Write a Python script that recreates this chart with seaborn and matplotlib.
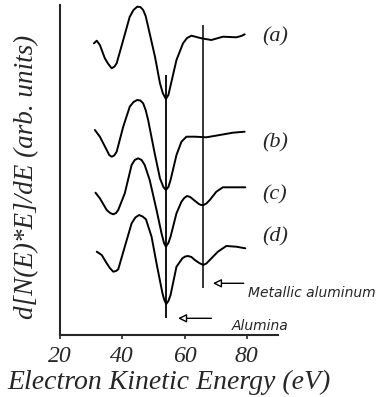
import matplotlib
matplotlib.use("Agg")
import matplotlib.pyplot as plt
import seaborn as sns
import pandas as pd

# ---- data (E in eV, signal in arb. units) ----
E_a = [30.9, 31.8, 32.8, 34.4, 35.5, 36.6, 37.5, 38.2, 40.3, 42.4, 43.6, 44.8, 45.8,
       46.7, 47.5, 48.3, 50.5, 52.1, 53.0, 54.0, 54.8, 55.3, 57.4, 59.5, 60.8, 62.2,
       65.4, 68.6, 72.3, 76.6, 78.2, 79.3]
y_a = [29.17, 29.43, 29.0, 27.67, 27.1, 26.67, 26.85, 27.17, 29.5, 31.83, 32.5, 32.83, 32.8,
       32.5, 31.9, 30.83, 27.83, 25.17, 24.2, 23.6, 24.0, 24.67, 27.5, 29.17, 29.7, 29.93,
       29.67, 29.5, 29.83, 29.77, 29.9, 30.07]

E_b = [31.2, 32.8, 35.0, 35.8, 36.6, 37.4, 38.2, 40.3, 42.4, 43.6, 44.8, 45.8, 46.7,
       47.5, 48.3, 50.4, 52.1, 53.2, 54.0, 54.8, 55.5, 57.4, 59.0, 60.6, 63.3, 67.0,
       71.3, 75.5, 79.3]
y_b = [20.5, 19.83, 18.5, 18.0, 17.83, 17.95, 18.33, 20.83, 22.83, 23.3, 23.5, 23.45, 23.17,
       22.5, 21.5, 18.17, 15.67, 14.8, 14.5, 14.8, 15.5, 18.0, 19.33, 19.83, 19.83, 19.77,
       20.0, 20.23, 20.33]

E_c = [31.4, 32.8, 35.0, 36.1, 37.1, 38.0, 38.7, 40.8, 43.0, 44.0, 45.1, 46.2, 47.2,
       48.8, 51.0, 52.6, 53.4, 54.0, 54.8, 55.5, 57.4, 59.0, 59.9, 60.8, 61.8, 62.7,
       64.6, 65.3, 66.1, 67.0, 68.1, 70.2, 72.3, 75.5, 79.5]
y_c = [14.23, 13.67, 12.5, 12.2, 12.07, 12.2, 12.5, 14.17, 17.0, 17.5, 17.67, 17.5, 17.0,
       15.5, 12.5, 10.17, 9.2, 8.83, 9.2, 9.83, 12.17, 13.33, 13.7, 13.9, 13.8, 13.57,
       13.1, 13.0, 13.0, 13.15, 13.5, 14.33, 14.77, 14.77, 14.77]

E_d = [31.8, 33.4, 35.0, 36.0, 37.1, 38.0, 38.7, 40.8, 43.0, 44.2, 45.4, 46.5, 47.6,
       49.4, 51.2, 52.9, 53.5, 54.1, 54.8, 55.5, 57.4, 59.3, 60.2, 61.1, 62.2, 63.3,
       64.7, 66.0, 67.0, 68.1, 70.7, 73.4, 76.6, 79.5]
y_d = [8.33, 8.0, 7.17, 6.7, 6.33, 6.4, 6.57, 8.83, 11.17, 11.75, 12.0, 11.85, 11.57,
       9.83, 6.83, 4.17, 3.5, 3.1, 3.4, 4.0, 6.83, 7.67, 7.85, 7.9, 7.8, 7.5,
       7.2, 7.0, 7.15, 7.5, 8.33, 8.9, 8.83, 8.67]

curve_labels = ["(a)", "(b)", "(c)", "(d)"]
label_y = [29.83, 19.17, 14.0, 9.8]

# reference energies
alumina_E = 54.0
metal_E = 66.0
alumina_span = [1.7, 26.0]
metal_span = [4.7, 31.0]

x_ticks = [20, 40, 60, 80]

frames = []
for lab, xs, ys in zip(curve_labels, [E_a, E_b, E_c, E_d], [y_a, y_b, y_c, y_d]):
    frames.append(pd.DataFrame({"E": xs, "S": ys, "curve": lab}))
df = pd.concat(frames, ignore_index=True)

sns.set_style("ticks")
plt.rcParams["font.family"] = ["Liberation Serif", "DejaVu Serif"]

fig = plt.figure(figsize=(3.84, 3.97), dpi=100)
ax = fig.add_axes([60 / 384, (397 - 335) / 397, 218 / 384, 330 / 397])

for lab in curve_labels:
    sub = df[df["curve"] == lab]
    sns.lineplot(data=sub, x="E", y="S", ax=ax, color="black", lw=1.4,
                 sort=False, estimator=None, legend=False,
                 solid_joinstyle="round", solid_capstyle="round")

ax.vlines([alumina_E], alumina_span[0], alumina_span[1], color="black", lw=1.3)
ax.vlines([metal_E], metal_span[0], metal_span[1], color="black", lw=1.1)

for lab, yy in zip(curve_labels, label_y):
    ax.text(85.0, yy, lab, fontsize=16, style="italic", va="center", ha="left")

arrow_kw = dict(arrowstyle="-|>,head_length=0.5,head_width=0.25", color="black",
                lw=1.0, fc="white", shrinkA=0, shrinkB=0)
ax.annotate("", xy=(69.1, 5.17), xytext=(79.0, 5.17), arrowprops=arrow_kw)
ax.annotate("", xy=(57.9, 1.67), xytext=(68.6, 1.67), arrowprops=arrow_kw)
ax.text(80.4, 4.2, "Metallic aluminum", fontsize=10, style="italic",
        family="DejaVu Sans", va="center", ha="left", clip_on=False)
ax.text(75.0, 0.15, "Alumina", fontsize=10, style="italic",
        family="DejaVu Sans", va="bottom", ha="left")

ax.set_xlim(20, 90)
ax.set_ylim(0, 33)
ax.set_xticks(x_ticks)
ax.set_xticklabels([str(t) for t in x_ticks], fontsize=17, style="italic")
ax.set_yticks([])
ax.tick_params(axis="x", direction="out", length=3, width=1.2, pad=5)
ax.set_xlabel("Electron Kinetic Energy (eV)", fontsize=20, style="italic", labelpad=2)
ax.set_ylabel("d[N(E)*E]/dE (arb. units)", fontsize=19.5, style="italic")
ax.yaxis.set_label_coords(-0.097, 0.478)
for s in ["top", "right"]:
    ax.spines[s].set_visible(False)
for s in ["left", "bottom"]:
    ax.spines[s].set_linewidth(1.5)

fig.savefig("out.png", dpi=100)
